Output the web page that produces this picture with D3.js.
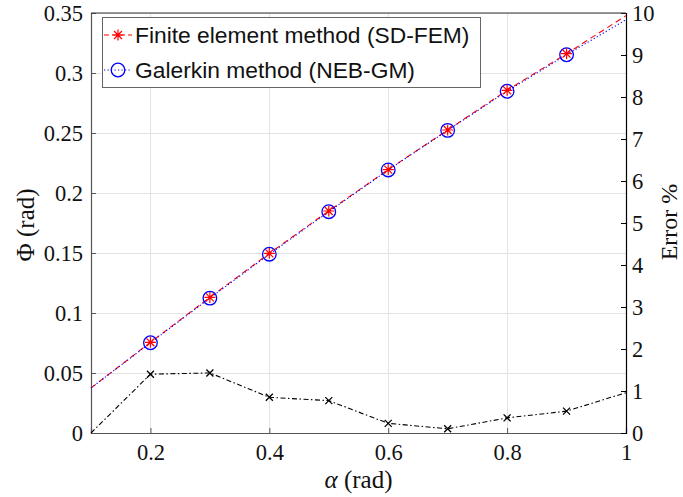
<!DOCTYPE html>
<html><head><meta charset="utf-8">
<script src="https://cdn.jsdelivr.net/npm/d3@7"></script>
<style>body{margin:0;background:#fff}</style>
</head><body>
<svg id="c" width="683" height="497"></svg>
<script>
const alpha = [0.1,0.2,0.3,0.4,0.5,0.6,0.7,0.8,0.9,1.0];
const phiFEM = [0.0375,0.0756,0.1130,0.1497,0.1850,0.2195,0.2525,0.2856,0.3161,0.3478];
const phiGM  = [0.0375,0.0752,0.1124,0.1490,0.1844,0.2192,0.2522,0.2848,0.3152,0.3444];
const errPct = [0,1.40,1.43,0.85,0.77,0.23,0.10,0.36,0.52,0.96];
const markerIdx = [1,2,3,4,5,6,7,8];
const xTicks = [0.2,0.4,0.6,0.8,1];
const yLeftTicks = [0,0.05,0.1,0.15,0.2,0.25,0.3,0.35];
const yRightTicks = [0,1,2,3,4,5,6,7,8,9,10];
const legendLabels = ["Finite element method (SD-FEM)","Galerkin method (NEB-GM)"];

const L=91, R=626, T=13, B=433;
const svg = d3.select("#c");
const x = d3.scaleLinear().domain([0.1,1]).range([L,R]);
const yl = d3.scaleLinear().domain([0,0.35]).range([B,T]);
const yr = d3.scaleLinear().domain([0,10]).range([B,T]);
const serif = "'Liberation Serif','Times New Roman',serif";
const sans = "'Liberation Sans',Arial,sans-serif";

// grid
const g = svg.append("g").attr("stroke","#e3e3e3").attr("stroke-width",1);
xTicks.forEach(t=>g.append("line").attr("x1",Math.round(x(t))+0.5).attr("x2",Math.round(x(t))+0.5).attr("y1",T).attr("y2",B));
yLeftTicks.forEach(t=>g.append("line").attr("x1",L).attr("x2",R).attr("y1",Math.round(yl(t))+0.5).attr("y2",Math.round(yl(t))+0.5));

// axes via d3
const axB = d3.axisBottom(x).tickValues(xTicks).tickSize(-5).tickFormat(d3.format("~g"));
const axL = d3.axisLeft(yl).tickValues(yLeftTicks).tickSize(-5).tickFormat(d3.format("~g"));
const axR = d3.axisRight(yr).tickValues(yRightTicks).tickSize(-5).tickFormat(d3.format("~g"));
function style(sel,col){
  sel.select(".domain").attr("stroke",col).attr("stroke-width",1.2);
  sel.selectAll(".tick line").attr("stroke",col).attr("stroke-width",1);
  sel.selectAll(".tick text").attr("fill","#111").style("font-family",serif).style("font-size","22.5px");
}
const gb = svg.append("g").attr("transform",`translate(0,${B})`).call(axB);
style(gb,"#555"); gb.selectAll(".tick text").attr("dy","0.75em").attr("y",10);
const gl = svg.append("g").attr("transform",`translate(${L},0)`).call(axL);
style(gl,"#555"); gl.selectAll(".tick text").attr("x",-8);
const gr = svg.append("g").attr("transform",`translate(${R},0)`).call(axR);
style(gr,"#000"); gr.selectAll(".tick text").attr("x",6);
svg.append("line").attr("x1",L).attr("x2",R).attr("y1",T).attr("y2",T).attr("stroke","#333").attr("stroke-width",1.2);

// lines
const lineL = d3.line().x((d,i)=>x(alpha[i])).y(d=>yl(d));
const lineR = d3.line().x((d,i)=>x(alpha[i])).y(d=>yr(d));
svg.append("path").attr("d",lineL(phiFEM)).attr("fill","none").attr("stroke","#ff0000").attr("stroke-width",1.1).attr("stroke-dasharray","6,4");
svg.append("path").attr("d",lineL(phiGM)).attr("fill","none").attr("stroke","#0000ff").attr("stroke-width",1.1).attr("stroke-dasharray","1.2,2.3");
svg.append("path").attr("d",lineR(errPct)).attr("fill","none").attr("stroke","#000").attr("stroke-width",1.1).attr("stroke-dasharray","5,2.5,1.5,2.5");

function asterisk(gp,cx,cy,s,col){
  const d=s*0.72;
  const p=`M${cx-s},${cy}L${cx+s},${cy}M${cx},${cy-s}L${cx},${cy+s}M${cx-d},${cy-d}L${cx+d},${cy+d}M${cx-d},${cy+d}L${cx+d},${cy-d}`;
  gp.append("path").attr("d",p).attr("stroke",col).attr("stroke-width",1.2).attr("fill","none");
}
function cross(gp,cx,cy,s,col){
  gp.append("path").attr("d",`M${cx-s},${cy-s}L${cx+s},${cy+s}M${cx-s},${cy+s}L${cx+s},${cy-s}`).attr("stroke",col).attr("stroke-width",1.3);
}
const mk = svg.append("g");
markerIdx.forEach(i=>{
  mk.append("circle").attr("cx",x(alpha[i])).attr("cy",yl(phiGM[i])).attr("r",6.8).attr("fill","none").attr("stroke","#0000ff").attr("stroke-width",1.3);
  asterisk(mk,x(alpha[i]),yl(phiFEM[i]),5.5,"#ff0000");
});
errPct.forEach((v,i)=>{ if(i>0 && i<errPct.length-1) cross(mk,x(alpha[i]),yr(v),3.5,"#000"); });

// legend
const lg = svg.append("g");
lg.append("rect").attr("x",102.5).attr("y",17.5).attr("width",378).attr("height",70).attr("fill","#fff").attr("stroke","#666").attr("stroke-width",1);
const rows=[35,70];
lg.append("line").attr("x1",104).attr("x2",132).attr("y1",rows[0]).attr("y2",rows[0]).attr("stroke","#ff0000").attr("stroke-width",1.1).attr("stroke-dasharray","5,3");
asterisk(lg,118,rows[0],5.5,"#ff0000");
lg.append("line").attr("x1",104).attr("x2",132).attr("y1",rows[1]).attr("y2",rows[1]).attr("stroke","#0000ff").attr("stroke-width",1.1).attr("stroke-dasharray","1.2,2.3");
lg.append("circle").attr("cx",118).attr("cy",rows[1]).attr("r",6.8).attr("fill","none").attr("stroke","#0000ff").attr("stroke-width",1.3);
legendLabels.forEach((t,i)=>lg.append("text").attr("x",135).attr("y",rows[i]).attr("dy","0.36em").style("font-family",sans).style("font-size","22.8px").attr("fill","#111").text(t));

// axis titles
svg.append("text").attr("x",(L+R)/2).attr("y",488).attr("text-anchor","middle").style("font-family",serif).style("font-size","25px").attr("fill","#111")
  .html("<tspan font-style='italic'>α</tspan> (rad)");
svg.append("text").attr("transform","translate(34,225) rotate(-90)").attr("text-anchor","middle").style("font-family",serif).style("font-size","25px").attr("fill","#111").text("Φ (rad)");
svg.append("text").attr("transform","translate(677,222) rotate(-90)").attr("text-anchor","middle").style("font-family",serif).style("font-size","24px").attr("fill","#111").text("Error %");
</script>
</body></html>
